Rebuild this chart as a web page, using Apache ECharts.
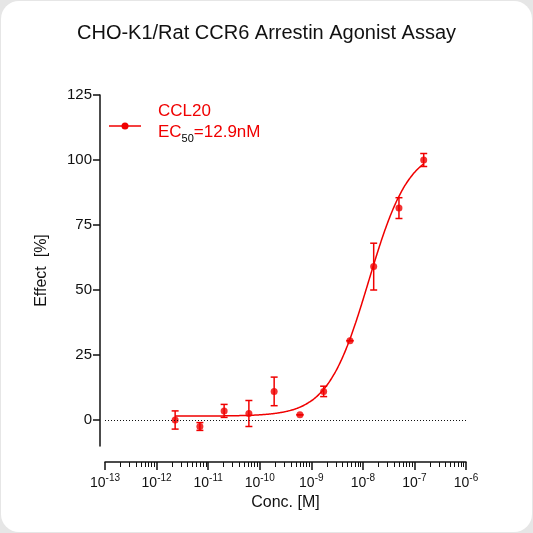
<!DOCTYPE html>
<html>
<head>
<meta charset="utf-8">
<script src="https://cdn.jsdelivr.net/npm/echarts@6/dist/echarts.min.js"></script>
<style>
html,body{margin:0;padding:0;background:#e6e6e6;}
#main{width:531px;height:531px;margin:1px;background:#fff;border-radius:18px;overflow:hidden;}
</style>
</head>
<body>
<div id="main"></div>
<script>
// data: log10(conc) , effect mean, error (sd)
var logConc = [-11.64, -11.16, -10.69, -10.21, -9.72, -9.22, -8.76, -8.25, -7.79, -7.30, -6.82];
var effect = [0, -2.5, 3.5, 2.5, 11, 2, 11, 30.5, 59, 81.5, 100];
var errs = [3.5, 1.5, 2.5, 5, 5.5, 0, 2, 0, 9, 4, 2.5];
var majorTicks = [-13, -12, -11, -10, -9, -8, -7, -6];
var yTicks = [0, 25, 50, 75, 100, 125];
// fitted four-parameter curve
var fit = {bottom: 1.5, top: 105, logEC50: -7.89, hill: 1.1};

var minorTicks = [];
for (var d = -13; d < -6; d++) {
  for (var k = 2; k <= 9; k++) minorTicks.push(d + Math.log10(k));
}
var curve = [];
for (var x = -11.64; x <= -6.82; x += 0.02) {
  curve.push([x, fit.bottom + (fit.top - fit.bottom) / (1 + Math.pow(10, (fit.logEC50 - x) * fit.hill))]);
}
var points = logConc.map(function(x, i){ return [x, effect[i]]; });
var bars = logConc.map(function(x, i){ return [x, effect[i] - errs[i], effect[i] + errs[i]]; });

var red = '#f00000';
var font = 'Arial, "Liberation Sans", sans-serif';
var chart = echarts.init(document.getElementById('main'));
chart.setOption({
  animation: false,
  title: {
    text: 'CHO-K1/Rat CCR6 Arrestin Agonist Assay',
    left: 'center', top: 17,
    textStyle: {fontSize: 20, fontWeight: 'normal', color: '#111', fontFamily: font}
  },
  grid: {left: 104, right: 66, top: 94, bottom: 86},
  xAxis: [{
    type: 'value', min: -13, max: -6, position: 'bottom', offset: 16,
    name: 'Conc. [M]', nameLocation: 'middle', nameGap: 30,
    nameTextStyle: {fontSize: 16, color: '#111', fontFamily: font},
    axisLine: {onZero: false, lineStyle: {color: '#111', width: 1.5}},
    axisTick: {customValues: majorTicks, length: 8, lineStyle: {color: '#111', width: 1.5}},
    axisLabel: {
      customValues: majorTicks, margin: 11,
      formatter: function(v){ return '{b|10}{s|' + v + '}'; },
      rich: {
        b: {fontSize: 14, color: '#111', fontFamily: font},
        s: {fontSize: 10, color: '#111', fontFamily: font, verticalAlign: 'bottom', padding: [0, 0, 10, 0]}
      }
    },
    splitLine: {show: false}
  }, {
    type: 'value', min: -13, max: -6, position: 'bottom', offset: 16,
    axisLine: {show: false, onZero: false},
    axisTick: {customValues: minorTicks, length: 5, lineStyle: {color: '#111', width: 1}},
    axisLabel: {show: false},
    splitLine: {show: false}
  }],
  yAxis: {
    type: 'value', min: -10, max: 125, offset: 5,
    name: 'Effect  [%]', nameLocation: 'middle', nameGap: 50,
    nameTextStyle: {fontSize: 16, color: '#111', fontFamily: font},
    axisLine: {show: true, onZero: false, lineStyle: {color: '#111', width: 1.5}},
    axisTick: {show: true, customValues: yTicks, length: 7, lineStyle: {color: '#111', width: 1.5}},
    axisLabel: {customValues: yTicks, fontSize: 15, color: '#111', fontFamily: font},
    splitLine: {show: false}
  },
  series: [{
    type: 'line', data: curve, showSymbol: false, smooth: true,
    lineStyle: {color: red, width: 1.5},
    markLine: {
      silent: true, symbol: 'none', label: {show: false},
      lineStyle: {color: '#111', type: [1, 2], width: 1},
      data: [{yAxis: 0}]
    }
  }, {
    type: 'custom', data: bars,
    renderItem: function(params, api){
      var top = api.coord([api.value(0), api.value(2)]);
      var bot = api.coord([api.value(0), api.value(1)]);
      var s = {stroke: red, lineWidth: 1.5};
      return {type: 'group', children: [
        {type: 'line', shape: {x1: top[0], y1: top[1], x2: bot[0], y2: bot[1]}, style: s},
        {type: 'line', shape: {x1: top[0] - 3.5, y1: top[1], x2: top[0] + 3.5, y2: top[1]}, style: s},
        {type: 'line', shape: {x1: bot[0] - 3.5, y1: bot[1], x2: bot[0] + 3.5, y2: bot[1]}, style: s}
      ]};
    }
  }, {
    type: 'scatter', data: points, symbolSize: 7, itemStyle: {color: red}
  }],
  graphic: [
    {type: 'line', shape: {x1: 108, y1: 125, x2: 140, y2: 125}, style: {stroke: red, lineWidth: 1.5}},
    {type: 'circle', shape: {cx: 124, cy: 125, r: 3.5}, style: {fill: red}},
    {type: 'text', left: 157, top: 102, style: {text: 'CCL20', fontSize: 17, fill: red, fontFamily: font}},
    {type: 'text', left: 157, top: 123, style: {
      text: '{a|EC}{s|50}{a|=12.9nM}',
      rich: {
        a: {fontSize: 17, fill: red, color: red, fontFamily: font},
        s: {fontSize: 11, color: red, fontFamily: font, verticalAlign: 'top', padding: [12, 0, 0, 0]}
      }
    }}
  ]
});
</script>
</body>
</html>
